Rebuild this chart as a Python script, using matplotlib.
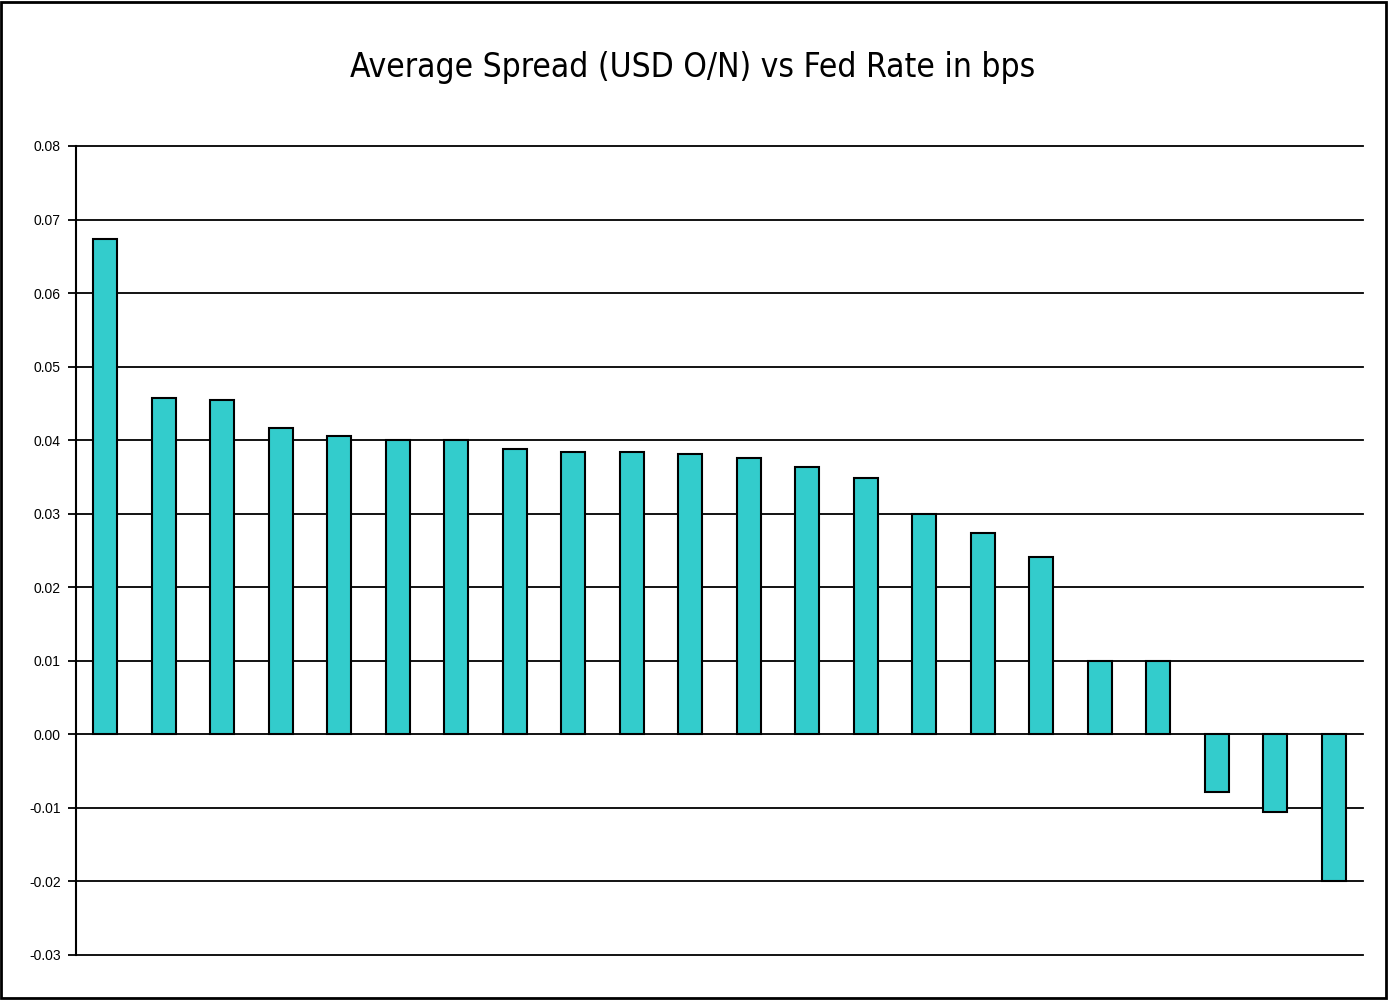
import matplotlib.pyplot as plt
from matplotlib.patches import Rectangle

spread = [0.0674, 0.0458, 0.0454, 0.0416, 0.0406, 0.0400, 0.0400, 0.0388,
          0.0384, 0.0384, 0.0381, 0.0376, 0.0364, 0.0349, 0.0300, 0.0274,
          0.0241, 0.0100, 0.0100, -0.0079, -0.0106, -0.0200]
yticks = [-0.03, -0.02, -0.01, 0.00, 0.01, 0.02, 0.03, 0.04, 0.05, 0.06, 0.07, 0.08]

fig = plt.figure(figsize=(13.89, 10), dpi=100)
ax = fig.add_axes([0.0547, 0.045, 0.9266, 0.809])

x = list(range(len(spread)))
ax.bar(x, spread, width=0.41, color="#33CCCC", edgecolor="black", linewidth=1.5, zorder=3)

ax.set_xlim(-0.5, len(spread) - 0.5)
ax.set_ylim(-0.03, 0.08)
ax.set_yticks(yticks)
ax.set_yticklabels(["%.2f" % t for t in yticks], fontsize=10, family="Liberation Sans")
ax.set_xticks([])
ax.yaxis.grid(True, color="black", linewidth=1.3, zorder=0)
for gl in ax.get_ygridlines():
    gl.set_clip_on(False)
ax.tick_params(axis="y", length=6, width=1.3, color="black", pad=5)
for s in ["top", "right", "bottom"]:
    ax.spines[s].set_visible(False)
ax.spines["left"].set_linewidth(1.5)

fig.text(0.4985, 0.933, "Average Spread (USD O/N) vs Fed Rate in bps", ha="center", va="center",
         fontsize=24, family="DejaVu Sans", stretch="condensed", weight="medium")

fig.patches.append(Rectangle((0.001, 0.002), 0.997, 0.996, transform=fig.transFigure,
                             fill=False, edgecolor="black", linewidth=2))

fig.savefig("out.png", dpi=100)
